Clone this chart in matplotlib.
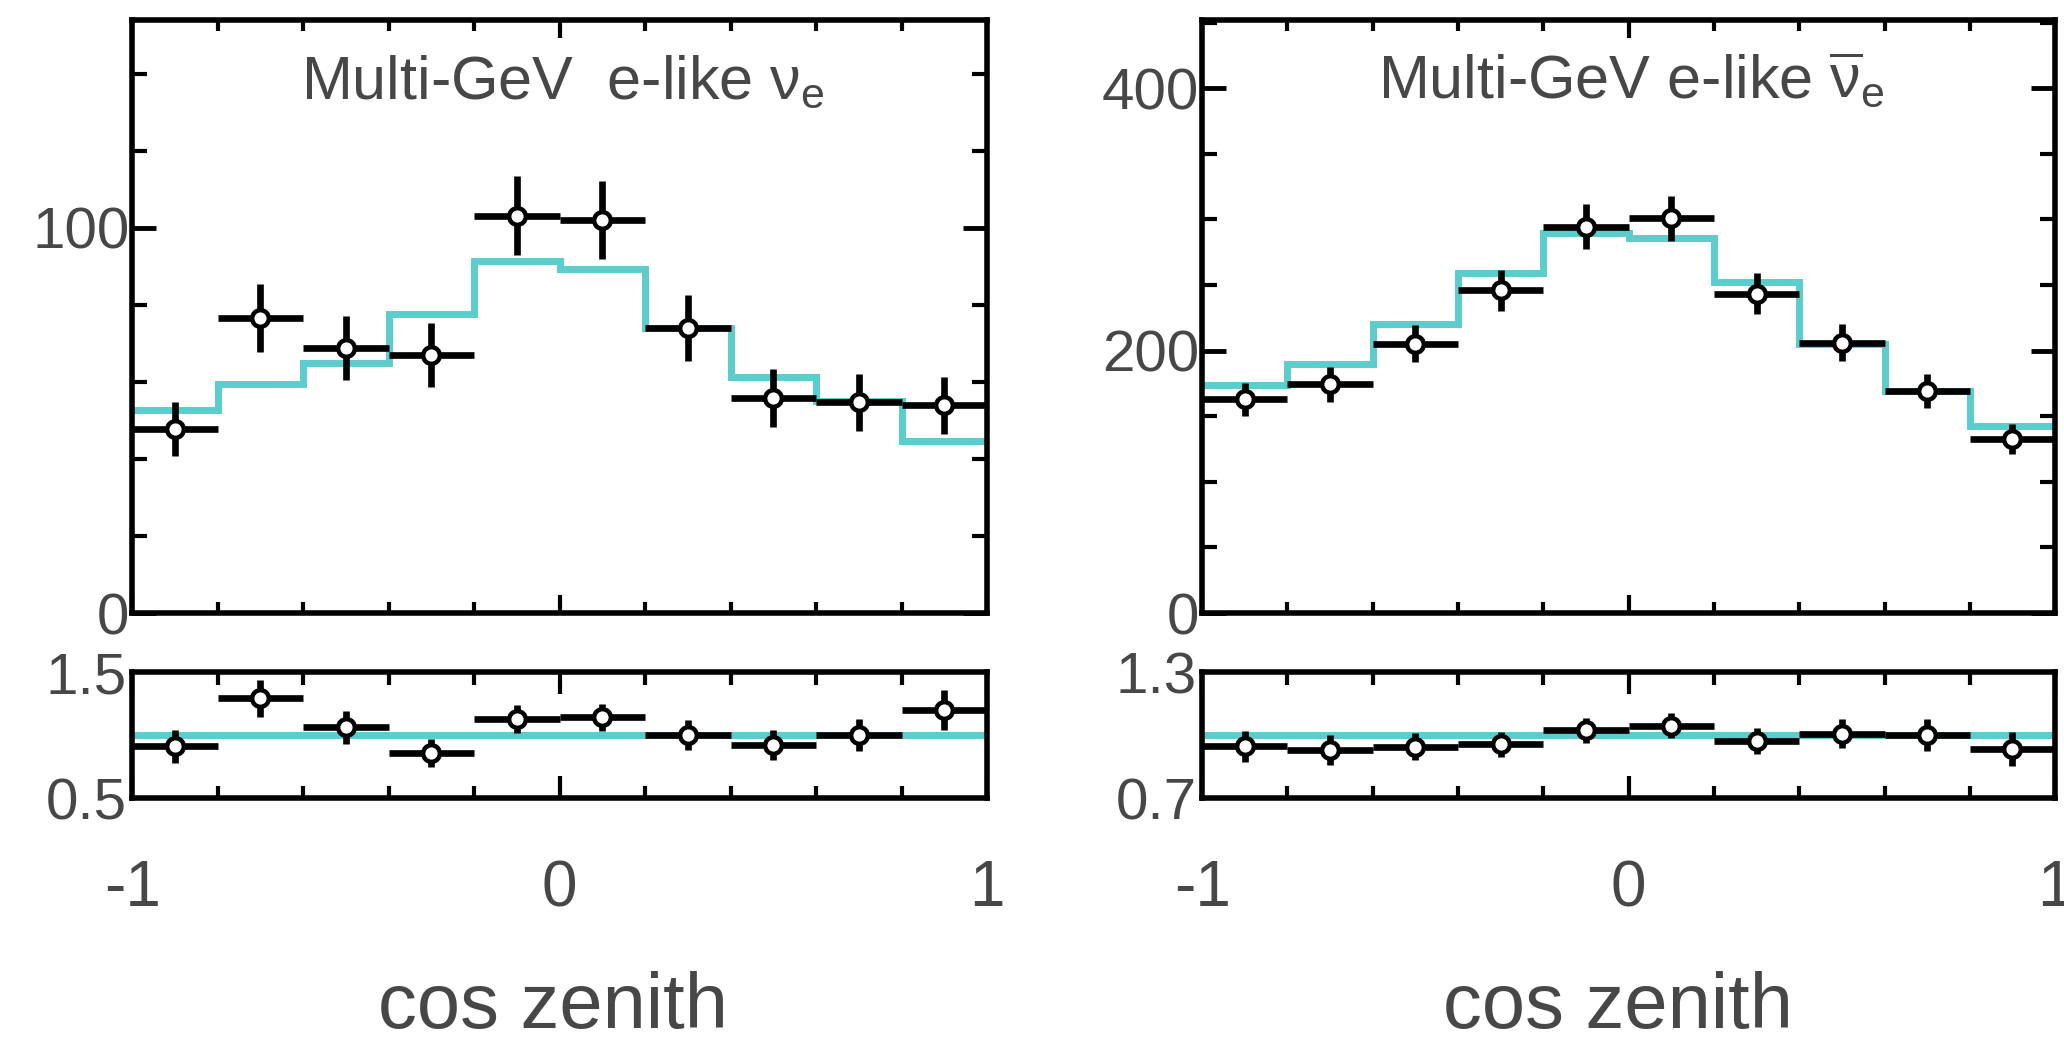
import numpy as np
import matplotlib
matplotlib.use("Agg")
import matplotlib.pyplot as plt
from matplotlib.ticker import MultipleLocator, FixedLocator

# ---------------- data ----------------
bin_edges = np.linspace(-1.0, 1.0, 11)
bin_centers = 0.5 * (bin_edges[:-1] + bin_edges[1:])

# Multi-GeV e-like nu_e
nue_data = [47.9, 76.6, 68.8, 67.0, 103.2, 102.1, 74.1, 55.9, 54.8, 53.9]
nue_err = [7.0, 8.8, 8.3, 8.2, 10.2, 10.1, 8.6, 7.5, 7.4, 7.3]
nue_mc = [52.7, 59.6, 64.9, 77.7, 91.5, 89.4, 73.9, 61.2, 55.0, 44.7]
nue_ratio = [0.91, 1.29, 1.06, 0.86, 1.13, 1.14, 1.00, 0.92, 1.00, 1.20]
nue_ratio_err = [0.13, 0.15, 0.13, 0.11, 0.11, 0.11, 0.12, 0.12, 0.13, 0.16]

# Multi-GeV e-like anti-nu_e
nuebar_data = [162.8, 174.3, 205.3, 245.9, 294.6, 300.8, 243.4, 206.2, 169.0, 132.4]
nuebar_err = [12.8, 13.2, 14.3, 15.7, 17.2, 17.3, 15.6, 14.4, 13.0, 11.5]
nuebar_mc = [173.6, 189.8, 220.2, 258.9, 289.9, 285.9, 252.7, 204.7, 169.0, 142.6]
nuebar_ratio = [0.947, 0.928, 0.945, 0.955, 1.022, 1.045, 0.970, 1.007, 1.000, 0.932]
nuebar_ratio_err = [0.074, 0.070, 0.065, 0.061, 0.059, 0.061, 0.062, 0.070, 0.077, 0.081]

titles = [r"Multi-GeV  e-like $\mathrm{\nu}_{\mathrm{e}}$",
          r"Multi-GeV e-like $\overline{\mathrm{\nu}}_{\mathrm{e}}$"]
x_tick_labels = ["-1", "0", "1"]
xlabel = "cos zenith"

# ---------------- style ----------------
plt.rcParams['font.family'] = ['Liberation Sans', 'DejaVu Sans']
plt.rcParams['mathtext.fontset'] = 'custom'
plt.rcParams['mathtext.rm'] = 'Liberation Sans'
plt.rcParams['mathtext.it'] = 'Liberation Sans:italic'
plt.rcParams['mathtext.bf'] = 'Liberation Sans:bold'

CYAN = '#5ccccc'
TXT = '#474747'
SPINE_W = 4.0

fig = plt.figure(figsize=(20.64, 10.44), dpi=100)

layout = [
    dict(up=[0.0640, 0.4128, 0.4142, 0.5680], lo=[0.0640, 0.2356, 0.4142, 0.1207],
         data=nue_data, err=nue_err, mc=nue_mc, ratio=nue_ratio, rerr=nue_ratio_err,
         ylim=(0, 154), ymaj=100, ymin=20, rlim=(0.5, 1.5), rticks=["0.5", "1.5"],
         title=titles[0], tx=0.197, xl=0.2677),
    dict(up=[0.5824, 0.4128, 0.4133, 0.5680], lo=[0.5824, 0.2356, 0.4133, 0.1207],
         data=nuebar_data, err=nuebar_err, mc=nuebar_mc, ratio=nuebar_ratio, rerr=nuebar_ratio_err,
         ylim=(0, 452), ymaj=200, ymin=50, rlim=(0.7, 1.3), rticks=["0.7", "1.3"],
         title=titles[1], tx=0.206, xl=0.784),
]


def style_axes(ax):
    for sp in ax.spines.values():
        sp.set_linewidth(SPINE_W)
        sp.set_color('black')
    ax.tick_params(which='both', direction='in', top=True, right=True,
                   colors='black', labelcolor=TXT)


def draw_data(ax, y, yerr):
    ax.errorbar(bin_centers, y, xerr=0.1, yerr=yerr, fmt='o',
                color='black', ecolor='black', elinewidth=4.8, capsize=0,
                ms=12, mfc='white', mec='black', mew=3.2, zorder=3)


for p in layout:
    # ---- upper panel ----
    ax = fig.add_axes(p['up'])
    style_axes(ax)
    ax.stairs(p['mc'], bin_edges, baseline=None, color=CYAN, lw=5, zorder=2)
    draw_data(ax, p['data'], p['err'])
    ax.set_xlim(-1, 1)
    ax.set_ylim(*p['ylim'])
    ax.xaxis.set_major_locator(FixedLocator([-1, 0, 1]))
    ax.xaxis.set_minor_locator(MultipleLocator(0.2))
    ax.yaxis.set_major_locator(MultipleLocator(p['ymaj']))
    ax.yaxis.set_minor_locator(MultipleLocator(p['ymin']))
    ax.tick_params(axis='x', which='major', length=13, width=3, labelbottom=False)
    ax.tick_params(axis='x', which='minor', length=8, width=3)
    ax.tick_params(axis='y', which='major', length=17, width=3.5, labelsize=42, pad=2)
    ax.tick_params(axis='y', which='minor', length=11, width=3)
    ax.text(p['tx'], 0.868, p['title'], transform=ax.transAxes, ha='left',
            va='baseline', fontsize=44, color=TXT)

    # ---- ratio panel ----
    axr = fig.add_axes(p['lo'])
    style_axes(axr)
    axr.axhline(1.0, color=CYAN, lw=5, zorder=2)
    draw_data(axr, p['ratio'], p['rerr'])
    axr.set_xlim(-1, 1)
    axr.set_ylim(*p['rlim'])
    axr.xaxis.set_major_locator(FixedLocator([-1, 0, 1]))
    axr.xaxis.set_minor_locator(MultipleLocator(0.2))
    axr.set_xticklabels(x_tick_labels)
    axr.set_yticks(list(p['rlim']))
    axr.set_yticklabels(p['rticks'])
    axr.tick_params(axis='x', which='major', length=16, width=3, labelsize=46, pad=44)
    axr.tick_params(axis='x', which='minor', length=9, width=3)
    axr.tick_params(axis='y', which='major', length=0, labelsize=42, pad=4)

    fig.text(p['xl'], 0.015, xlabel, ha='center', va='baseline',
             fontsize=56, color=TXT)

fig.savefig('out.png', dpi=100)
